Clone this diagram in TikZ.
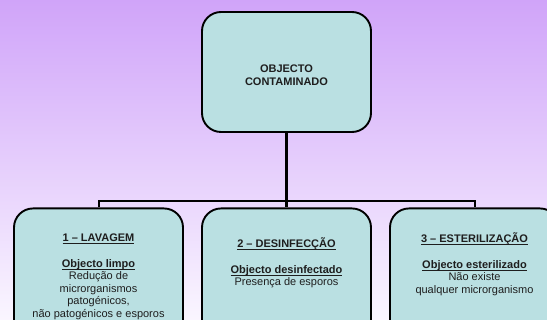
\documentclass[tikz,border=0pt]{standalone}
\usepackage{fontspec}
\setmainfont{Liberation Sans}
\newcommand{\sublinha}[1]{\setbox0\hbox{#1}\rlap{\vrule width\wd0 height -1.5pt depth 2.1pt}\box0}
\definecolor{lilasTopo}{RGB}{208,164,249}
\definecolor{lilasBase}{RGB}{250,246,255}
\definecolor{cianoCaixa}{RGB}{186,224,226}
\definecolor{textoEsc}{RGB}{30,30,30}
\usetikzlibrary{positioning, calc}

\begin{document}
\begin{tikzpicture}[x=1pt, y=-1pt,
  caixa/.style={rectangle, draw=black, fill=cianoCaixa, line width=1.9pt,
                rounded corners=19pt, minimum width=169pt, inner sep=0pt},
  texto/.style={align=center, text=textoEsc, inner sep=0pt,
                font=\fontsize{11}{12.5}\selectfont},
  ramo/.style={line width=2pt},
  tronco/.style={line width=3pt}
]
  \useasboundingbox (0,0) rectangle (547,320);
  \shade[top color=lilasTopo, bottom color=lilasBase] (0,0) rectangle (547,320);
  \clip (0,0) rectangle (547,320);

  % caixa de topo
  \node[caixa, minimum height=120pt] (objecto) at (286.5,72) {};
  \node[texto, font=\fontsize{11}{13}\selectfont\bfseries, anchor=north]
    (objectoTxt) at ($(objecto.center)+(0,-7)$) {OBJECTO\\CONTAMINADO};

  % tres etapas
  \node[caixa, minimum height=140pt, anchor=north] (lavagem) at (98.5,207.5) {};
  \node[caixa, minimum height=140pt, anchor=north] (desinfeccao) at (286.5,207.5) {};
  \node[caixa, minimum height=140pt, anchor=north] (esterilizacao) at (474.5,207.5) {};

  \node[texto, anchor=north] (lavagemTxt) at ($(lavagem.north)+(0,26)$)
    {\sublinha{\textbf{1 – LAVAGEM}}\\[13.5pt]
     \sublinha{\textbf{Objecto limpo}}\\
     Redução de\\ microrganismos\\ patogénicos,\\ não patogénicos e esporos};
  \node[texto, anchor=north] (desinfeccaoTxt) at ($(desinfeccao.north)+(0,30)$)
    {\sublinha{\textbf{2 – DESINFECÇÃO}}\\[13.5pt]
     \sublinha{\textbf{Objecto desinfectado}}\\
     Presença de esporos};
  \node[texto, anchor=north] (esterilizacaoTxt) at ($(esterilizacao.north)+(0,25)$)
    {\sublinha{\textbf{3 – ESTERILIZAÇÃO}}\\[13.5pt]
     \sublinha{\textbf{Objecto esterilizado}}\\
     Não existe\\ qualquer microrganismo};

  % ligacoes
  \coordinate (juncao) at (286.5,201);
  \draw[tronco] (objecto.south) -- (desinfeccao.north);
  \draw[ramo] (lavagem.north) |- (juncao) -| (esterilizacao.north);
\end{tikzpicture}
\end{document}
